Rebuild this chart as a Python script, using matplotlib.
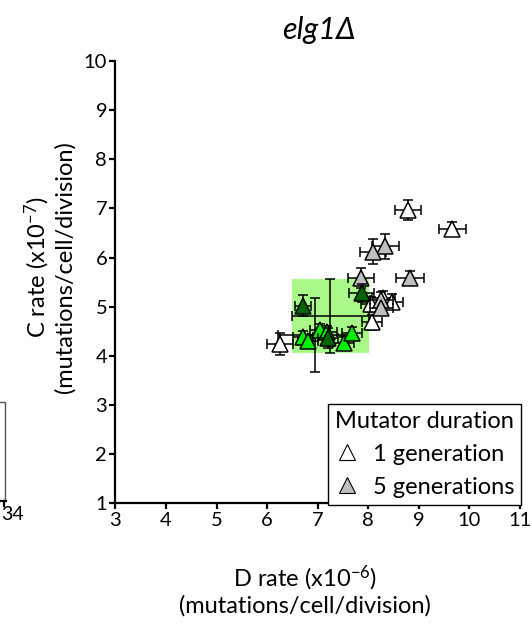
import matplotlib
matplotlib.use("Agg")
import matplotlib.pyplot as plt
from matplotlib.patches import Rectangle
from matplotlib.lines import Line2D

plt.rcParams['font.family'] = ['Lato', 'DejaVu Sans']
plt.rcParams['mathtext.fontset'] = 'custom'
plt.rcParams['mathtext.rm'] = 'Lato'
plt.rcParams['mathtext.it'] = 'Lato:italic'

# ---- data ----
white_x = [8.78, 9.66, 6.25, 8.07, 8.05, 8.30, 8.47]
white_y = [6.97, 6.58, 4.24, 4.68, 5.05, 5.18, 5.10]
white_xerr = [0.26, 0.27, 0.26, 0.20, 0.20, 0.22, 0.22]
white_yerr = [0.21, 0.15, 0.23, 0.15, 0.15, 0.15, 0.15]

gray_x = [8.34, 8.10, 7.85, 8.82, 8.26, 8.26]
gray_y = [6.23, 6.12, 5.59, 5.59, 5.14, 4.98]
gray_xerr = [0.26, 0.26, 0.26, 0.28, 0.22, 0.22]
gray_yerr = [0.26, 0.26, 0.20, 0.14, 0.15, 0.15]

dgreen_x = [6.71, 7.87, 7.20]
dgreen_y = [5.02, 5.28, 4.36]
dgreen_xerr = [0.15, 0.25, 0.20]
dgreen_yerr = [0.21, 0.18, 0.20]

lgreen_x = [6.71, 6.81, 7.04, 7.18, 7.51, 7.68]
lgreen_y = [4.39, 4.31, 4.53, 4.49, 4.27, 4.47]
lgreen_xerr = [0.20, 0.20, 0.20, 0.20, 0.20, 0.20]
lgreen_yerr = [0.12, 0.12, 0.12, 0.12, 0.12, 0.12]

mean_x = [7.25, 6.95]
mean_y = [4.81, 4.43]
mean_xerr = [0.76, 0.73]
mean_yerr = [0.76, 0.75]

xticks = [3, 4, 5, 6, 7, 8, 9, 10, 11]
yticks = [1, 2, 3, 4, 5, 6, 7, 8, 9, 10]

fig = plt.figure(figsize=(5.32, 6.25), dpi=100)
ax = fig.add_axes([0.2171, 0.1947, 0.7603, 0.7077])
ax.set_xlim(3, 11)
ax.set_ylim(1, 10)

# shaded box around first mean
ax.add_patch(Rectangle((mean_x[0] - mean_xerr[0], mean_y[0] - mean_yerr[0]),
                       2 * mean_xerr[0], 2 * mean_yerr[0],
                       facecolor='#a9f98a', edgecolor='none', zorder=1))
ax.errorbar(mean_x, mean_y, xerr=mean_xerr, yerr=mean_yerr, fmt='none',
            ecolor='black', elinewidth=1.1, capsize=3.5, capthick=1.1, zorder=2)

ms = 11
def series(x, y, xe, ye, fc, z):
    ax.errorbar(x, y, xerr=xe, yerr=ye, fmt='^', ms=ms, mfc=fc, mec='black',
                mew=1.1, ecolor='black', elinewidth=1.1, capsize=3.5,
                capthick=1.1, zorder=z)

series(white_x, white_y, white_xerr, white_yerr, 'white', 3)
series(gray_x, gray_y, gray_xerr, gray_yerr, '#bfbfbf', 4)
series(lgreen_x, lgreen_y, lgreen_xerr, lgreen_yerr, '#00f000', 5)
series(dgreen_x, dgreen_y, dgreen_xerr, dgreen_yerr, '#006400', 6)

for s in ['top', 'right']:
    ax.spines[s].set_visible(False)
for s in ['left', 'bottom']:
    ax.spines[s].set_linewidth(1.6)
ax.set_xticks(xticks)
ax.set_yticks(yticks)
ax.tick_params(direction='out', length=4, width=1.6, labelsize=14.5, pad=2)

# legend
handles = [Line2D([], [], marker='^', ls='none', ms=11, mfc='white', mec='black', mew=0.8),
           Line2D([], [], marker='^', ls='none', ms=11, mfc='#bfbfbf', mec='black', mew=0.8)]
leg = ax.legend(handles, ['1 generation', '5 generations'], title='Mutator duration',
                loc='lower right', bbox_to_anchor=(1.003, -0.003), fontsize=17,
                title_fontsize=17, frameon=True, fancybox=False, framealpha=1,
                edgecolor='black', borderpad=0.3, handlelength=1.0,
                handletextpad=0.6, labelspacing=0.5, alignment='left',
                borderaxespad=0)
leg.get_frame().set_linewidth(1.0)
leg.set_zorder(10)

fig.text(319 / 532, 1 - 39 / 625, 'elg1Δ', ha='center', va='baseline',
         fontsize=22, style='italic')
fig.text(305 / 532, 1 - 590 / 625,
         'D rate (x10$^{-6}$)\n(mutations/cell/division)',
         ha='center', va='center', fontsize=17, linespacing=1.1)
fig.text(49 / 532, 1 - 267 / 625,
         'C rate (x10$^{-7}$)\n(mutations/cell/division)',
         ha='center', va='center', fontsize=17, rotation=90, linespacing=1.1)

# fragment of neighbouring panel at the left edge
fig.add_artist(Line2D([0, 5 / 532, 5 / 532], [1 - 402 / 625, 1 - 402 / 625, 1 - 500 / 625],
                      transform=fig.transFigure, color='#555555', lw=1.0))
fig.add_artist(Line2D([0, 6 / 532], [1 - 501 / 625, 1 - 501 / 625],
                      transform=fig.transFigure, color='black', lw=1.6))
fig.add_artist(Line2D([4 / 532, 4 / 532], [1 - 501 / 625, 1 - 506 / 625],
                      transform=fig.transFigure, color='black', lw=1.6))
fig.text(1 / 532, 1 - 514 / 625, '34', ha='left', va='center', fontsize=14)

fig.savefig('out.png', dpi=100)
